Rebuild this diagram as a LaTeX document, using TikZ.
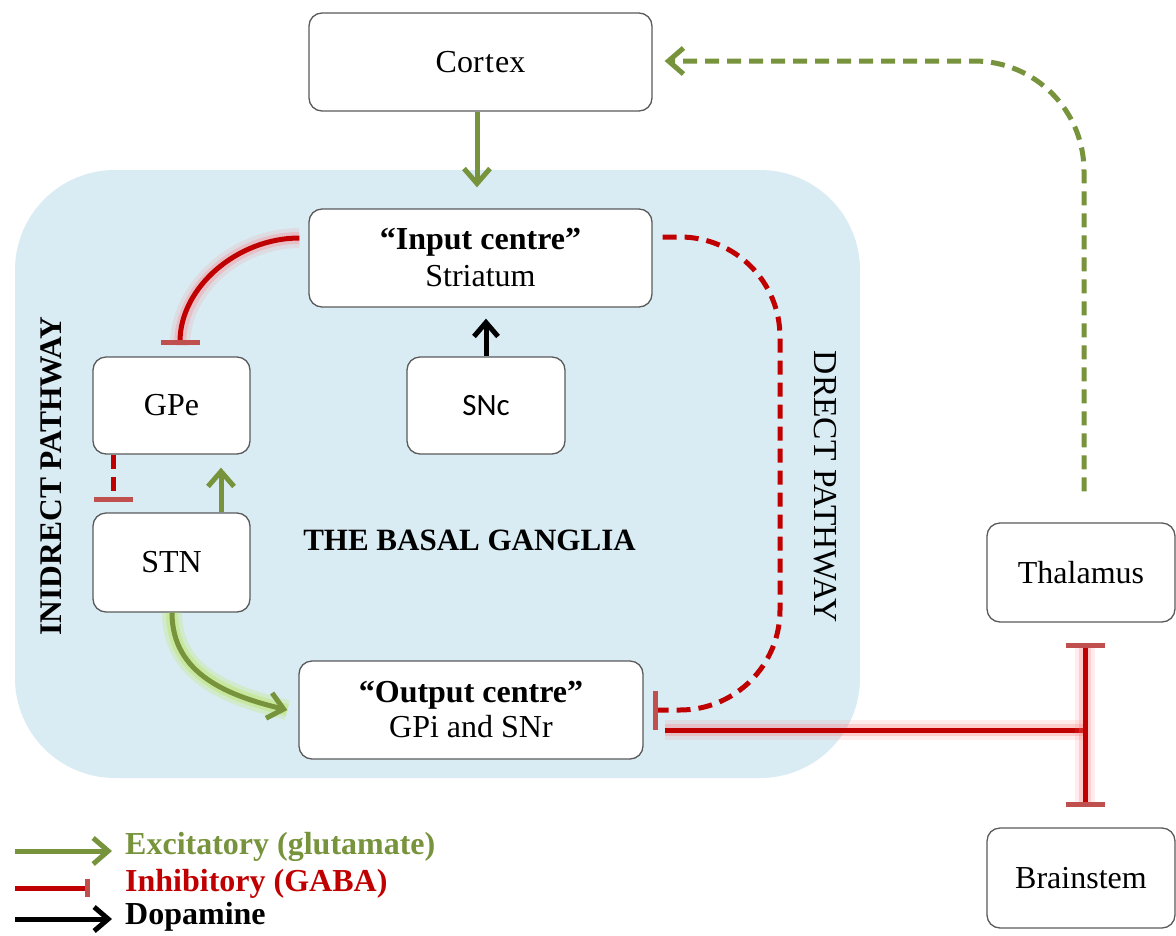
\documentclass[tikz,border=0pt]{standalone}
\usepackage{fontspec}
\setmainfont{Liberation Serif}
\newfontfamily\snfont{Carlito}
\usetikzlibrary{arrows.meta,calc}
\definecolor{excgreen}{HTML}{77933C}
\definecolor{inhred}{HTML}{C00000}
\definecolor{barred}{HTML}{C0504D}
\definecolor{glowred}{HTML}{FF7070}
\definecolor{glowgreen}{HTML}{B8E65A}
\definecolor{bgblue}{HTML}{DAECF3}
\definecolor{bordergray}{HTML}{5A5A5A}
\begin{document}
\begin{tikzpicture}[x=1pt,y=-1pt,
  box/.style={draw=bordergray, line width=1.3pt, fill=white, rounded corners=13pt,
    align=center, inner sep=0pt, font=\fontsize{32}{37}\selectfont},
  exc/.style={draw=excgreen, line width=5pt, -{Straight Barb[length=15pt,width=26pt,line width=5pt]}},
  dopa/.style={draw=black, line width=5pt, -{Straight Barb[length=14pt,width=24pt,line width=5pt]}},
  inh/.style={draw=inhred, line width=5pt, -{Bar[width=39pt,line width=5pt,color=barred]}},
  inhdash/.style={inh, dash pattern=on 14pt off 8pt},
  redglow/.style={preaction={draw,-,glowred,line width=20pt,opacity=0.12},
                  preaction={draw,-,glowred,line width=12pt,opacity=0.25}},
  greenglow/.style={preaction={draw,-,glowgreen,line width=20pt,opacity=0.25},
                    preaction={draw,-,glowgreen,line width=12pt,opacity=0.4}},
  legtext/.style={anchor=west, font=\fontsize{32}{36}\selectfont\bfseries, inner sep=0pt},
  pathlabel/.style={font=\fontsize{32}{36}\selectfont, inner sep=0pt}
]
\useasboundingbox (0,0) rectangle (1176,935);
\fill[white] (0,0) rectangle (1176,935);

% basal ganglia background
\fill[bgblue, rounded corners=100pt] (15,170) rectangle (860,778);

% nodes
\node[box, minimum width=343pt, minimum height=98pt] (cortex) at (480.5,62) {Cor\kern1.5pt t\kern1pt ex};
\node[box, minimum width=343pt, minimum height=98pt] (striatum) at (480.5,258) {\textbf{``Input centre''}\\Striatum};
\node[box, minimum width=158pt, minimum height=97pt, font=\fontsize{31}{36}\snfont] (snc) at (486,405.5) {SNc};
\node[box, minimum width=157pt, minimum height=97pt] (gpe) at (171.5,405.5) {GPe};
\node[box, minimum width=157pt, minimum height=99pt] (stn) at (171.5,562.5) {STN};
\node[box, minimum width=344pt, minimum height=98pt, font=\fontsize{32}{35}\selectfont] (out) at (471,710) {\textbf{``Output centre''}\\GPi and SNr};
\node[box, minimum width=188pt, minimum height=99pt] (thal) at (1081,572.5) {Thalamus};
\node[box, minimum width=188pt, minimum height=100pt] (brain) at (1081,878) {Brainstem};

% labels
\node[pathlabel, font=\fontsize{31.5}{36}\selectfont\bfseries, rotate=90] (indlab) at (51,476) {INIDRECT PATHWAY};
\node[pathlabel, font=\fontsize{33.5}{36}\selectfont, rotate=-90] (dirlab) at (825,487) {DRECT PATHWAY};
\node[pathlabel, font=\fontsize{31}{36}\selectfont\bfseries] (bglab) at (469.5,540) {THE BASAL GANGLIA};

% cortex -> striatum
\draw[exc] (cortex.south -| 477,0) -- ($(striatum.north -| 477,0)+(0,-21)$);
% SNc -> striatum
\draw[dopa] (snc.north) -- ($(striatum.south -| snc.north)+(0,11)$);

% striatum -| GPe (indirect)
\draw[inh, redglow] ($(striatum.west)+(-9,-20)$) .. controls +(-62,0) and +(0,-58) .. ($(gpe.north)+(8.5,-11)$);
% GPe -| STN
\draw[inhdash] ($(gpe.south)+(-58.5,0)$) -- ($(stn.north)+(-58.5,-10)$);
% STN -> GPe
\draw[exc] ($(stn.north)+(49.5,0)$) -- ($(gpe.south)+(49.5,13)$);
% STN -> output
\draw[exc, greenglow] ($(stn.south)+(0.5,0)$) .. controls +(0,62) and +(-58,-14) .. ($(out.west)+(-11,0)$);

% direct pathway
\coordinate (dc1) at (780,237);
\coordinate (dc2) at (780,710);
\draw[inhdash, rounded corners=100pt] ($(striatum.east)+(10,-21)$) -- (dc1) -- (dc2) -- ($(out.east)+(9,0)$);

% output -| thalamus / brainstem
\coordinate (jn) at (1085,730);
\draw[draw=inhred, line width=5pt, redglow] ($(out.east)+(21,20)$) -- (jn);
\draw[inh, redglow] (jn) -- ($(jn |- thal.south)+(0,20)$);
\draw[inh, redglow] (jn) -- ($(jn |- brain.north)+(0,-20)$);

% thalamus -> cortex (dashed)
\coordinate (tc) at (1084,61);
\draw[exc, dash pattern=on 14pt off 8pt, rounded corners=110pt] ($(thal.north)+(3,-31)$) -- (tc) -- ($(cortex.east)+(12,-1)$);

% legend
\coordinate (la1) at (15,851); \coordinate (lb1) at (112,851);
\coordinate (la2) at (15,888); \coordinate (lb2) at (90,888);
\coordinate (la3) at (15,919); \coordinate (lb3) at (112,919);
\draw[exc] (la1) -- (lb1);
\draw[inh, -{Bar[width=18pt,line width=5pt,color=barred]}] (la2) -- (lb2);
\draw[dopa] (la3) -- (lb3);
\node[legtext, text=excgreen] (t1) at (125,847) {Excitatory (glutamate)};
\node[legtext, text=inhred] (t2) at (125,884) {Inhibitory (GABA)};
\node[legtext, text=black] (t3) at (125,917) {Dopamine};
\end{tikzpicture}
\end{document}
